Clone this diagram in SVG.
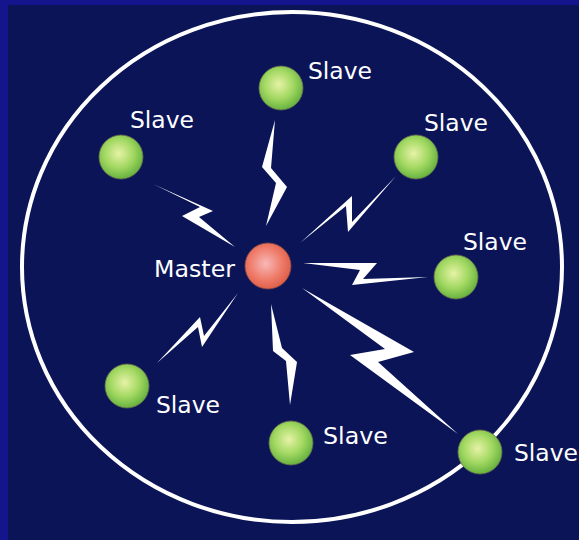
<svg xmlns="http://www.w3.org/2000/svg" width="579" height="540" viewBox="0 0 579 540">
<defs>
<radialGradient id="gGreen" cx="0.45" cy="0.42" r="0.6">
<stop offset="0" stop-color="#e6f2a6"/>
<stop offset="0.55" stop-color="#a2d862"/>
<stop offset="1" stop-color="#62b03c"/>
</radialGradient>
<radialGradient id="gRed" cx="0.45" cy="0.45" r="0.6">
<stop offset="0" stop-color="#f8b8b8"/>
<stop offset="0.6" stop-color="#ee7a68"/>
<stop offset="1" stop-color="#dc5a44"/>
</radialGradient>
<style>
.lbl{font-family:"DejaVu Sans","Liberation Sans",sans-serif;font-size:23.5px;fill:#ffffff}
.slave{fill:url(#gGreen);stroke:#6a6a50;stroke-width:0.8}
.master{fill:url(#gRed);stroke:#8a4a40;stroke-width:0.8}
.bolt{fill:#ffffff}
</style>
</defs>
<rect x="0" y="0" width="579" height="540" fill="#14148c"/>
<rect x="8" y="5" width="571" height="535" fill="#0b1457"/>
<ellipse cx="292" cy="267" rx="270" ry="255" fill="none" stroke="#ffffff" stroke-width="4"/>
<g id="connectors">
<polygon class="bolt" points="275,120 262,167 276,183 266,226 287,187 271,168"/>
<polygon class="bolt" points="153,184 213,211 199,217 235,247 182,216 200,207"/>
<polygon class="bolt" points="300,243 352,196 352,222 396,176 348,232 346,206"/>
<polygon class="bolt" points="303,263 377,263 363,279 428,277 352,285 360,270"/>
<polygon class="bolt" points="157,363 200,317 204,336 238,293 202,347 198,327"/>
<polygon class="bolt" points="271,304 273,351 286,361 290,405 297,362 282,348"/>
<polygon class="bolt" points="302,288 414,352 378,362 458,434 350,355 385,349"/>
</g>
<g id="master"><circle class="master" cx="268" cy="266" r="23"/><text class="lbl" x="154" y="277" textLength="81" lengthAdjust="spacingAndGlyphs">Master</text></g>
<g id="slave1"><circle class="slave" cx="281" cy="88" r="22"/><text class="lbl" x="308" y="79" textLength="64" lengthAdjust="spacingAndGlyphs">Slave</text></g>
<g id="slave2"><circle class="slave" cx="121" cy="157" r="22"/><text class="lbl" x="130" y="128" textLength="64" lengthAdjust="spacingAndGlyphs">Slave</text></g>
<g id="slave3"><circle class="slave" cx="416" cy="157" r="22"/><text class="lbl" x="424" y="131" textLength="64" lengthAdjust="spacingAndGlyphs">Slave</text></g>
<g id="slave4"><circle class="slave" cx="456" cy="277" r="22"/><text class="lbl" x="463" y="250" textLength="64" lengthAdjust="spacingAndGlyphs">Slave</text></g>
<g id="slave5"><circle class="slave" cx="127" cy="386" r="22"/><text class="lbl" x="156" y="413" textLength="64" lengthAdjust="spacingAndGlyphs">Slave</text></g>
<g id="slave6"><circle class="slave" cx="291" cy="443" r="22"/><text class="lbl" x="323" y="444" textLength="65" lengthAdjust="spacingAndGlyphs">Slave</text></g>
<g id="slave7"><circle class="slave" cx="480" cy="452" r="22"/><text class="lbl" x="514" y="461" textLength="64" lengthAdjust="spacingAndGlyphs">Slave</text></g>
</svg>
